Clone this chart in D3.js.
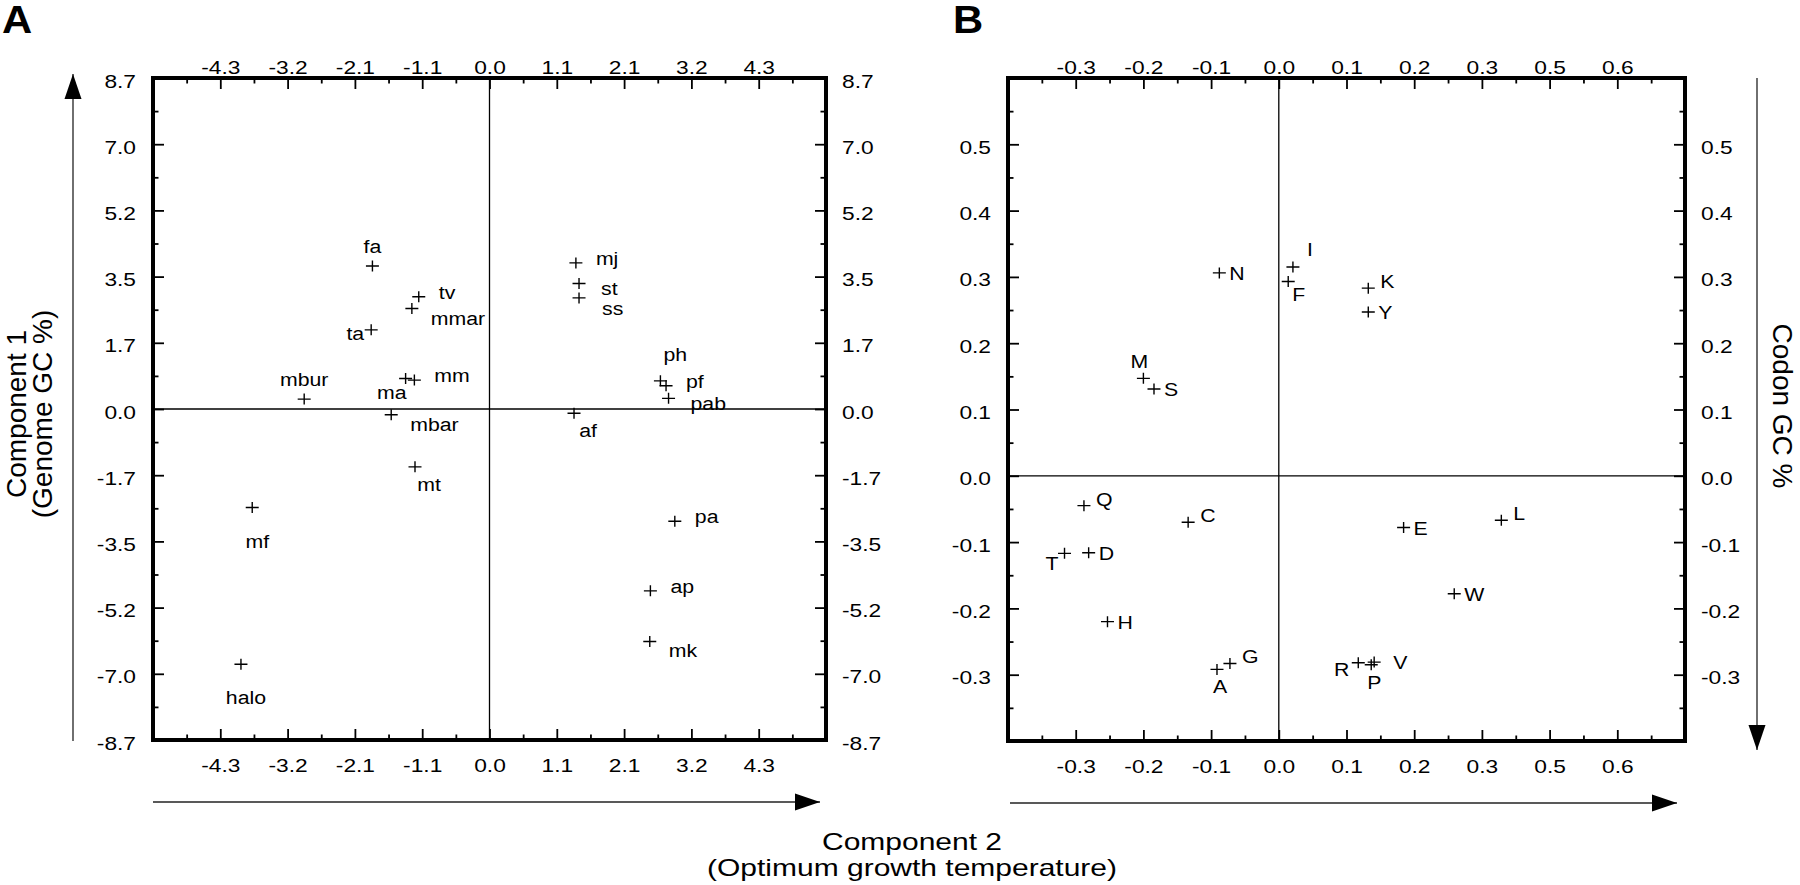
<!DOCTYPE html><html lang="en"><head><meta charset="utf-8">
<title>Component 1 / Component 2</title>
<script src="https://cdn.jsdelivr.net/npm/d3@7"></script>
<style>
body { margin: 0; background: #fff; }
svg text { font-family: "Liberation Sans", Arial, Helvetica, sans-serif; fill: #000; }
</style>
</head>
<body>
<div id="chart"></div>
<script>
// panel A: species, component 2 (x) and component 1 (y)
const speciesA = ["fa", "tv", "mmar", "ta", "ma", "mm", "mbur", "mbar", "mj", "st", "ss",
	"ph", "pf", "pab", "af", "mt", "mf", "halo", "pa", "ap", "mk"];
const comp2A = [-1.87, -1.13, -1.24, -1.89, -1.34, -1.20, -2.96, -1.57, 1.38, 1.43, 1.43,
	2.73, 2.82, 2.86, 1.35, -1.19, -3.79, -3.97, 2.96, 2.57, 2.56];
const comp1A = [3.76, 2.95, 2.64, 2.08, 0.80, 0.76, 0.26, -0.15, 3.84, 3.30, 2.92,
	0.74, 0.61, 0.28, -0.11, -1.52, -2.59, -6.71, -2.95, -4.78, -6.11];
const labelPosA = ["n", "e", "se", "w", "sw", "e", "n", "se", "e", "e2", "se2",
	"ne", "e", "e2", "s", "s", "ss", "ss", "e", "e", "se"];

// panel B: amino acids, component 2 (x) and codon GC % (y)
const aminoB = ["N", "I", "F", "K", "Y", "M", "S", "Q", "C", "T", "D", "H", "G", "A",
	"R", "P", "V", "E", "L", "W"];
const comp2B = [-0.101, 0.024, 0.016, 0.152, 0.152, -0.230, -0.212, -0.331, -0.154, -0.364,
	-0.323, -0.291, -0.083, -0.105, 0.135, 0.157, 0.162, 0.212, 0.378, 0.298];
const codonB = [0.306, 0.315, 0.293, 0.283, 0.247, 0.147, 0.131, -0.045, -0.070, -0.117,
	-0.116, -0.220, -0.283, -0.292, -0.282, -0.285, -0.281, -0.078, -0.067, -0.178];
const labelPosB = ["e", "nne", "se", "ne", "e", "n", "e", "ne", "ne", "sw", "e", "e", "ne", "s",
	"w", "s", "ee", "e", "ne", "e"];

// axis ticks
const xStepA = 1.075, yStepA = 1.74;
const xTickLabelsA = ["-4.3", "-3.2", "-2.1", "-1.1", "0.0", "1.1", "2.1", "3.2", "4.3"];
const yTickLabelsA = ["8.7", "7.0", "5.2", "3.5", "1.7", "0.0", "-1.7", "-3.5", "-5.2", "-7.0", "-8.7"];
const xStepB = 0.115, yStepB = 0.1;
const xTickLabelsB = ["-0.3", "-0.2", "-0.1", "0.0", "0.1", "0.2", "0.3", "0.5", "0.6"];
const yTickLabelsB = ["0.5", "0.4", "0.3", "0.2", "0.1", "0.0", "-0.1", "-0.2", "-0.3"];

const svg = d3.select("#chart").append("svg")
	.attr("width", 1800).attr("height", 885);

const TICK_FONT = 17.5, TICK_SX = 1.3;
const LABEL_FONT = 19, LABEL_SX = 1.12;

function drawPanel(p) {
	const { x, y } = p;
	const [x0, x1] = x.range();
	const [y1, y0] = y.range();
	const g = svg.append("g");

	const axes = [
		{ gen: d3.axisTop(x), at: `translate(0,${y0})`, vals: p.xMajor, labels: p.xLabels, minor: p.xMinor, side: "top" },
		{ gen: d3.axisBottom(x), at: `translate(0,${y1})`, vals: p.xMajor, labels: p.xLabels, minor: p.xMinor, side: "bottom" },
		{ gen: d3.axisLeft(y), at: `translate(${x0},0)`, vals: p.yMajor, labels: p.yLabels, minor: p.yMinor, side: "left" },
		{ gen: d3.axisRight(y), at: `translate(${x1},0)`, vals: p.yMajor, labels: p.yLabels, minor: p.yMinor, side: "right" },
	];
	axes.forEach(a => {
		// minor ticks
		const gm = g.append("g").attr("transform", a.at)
			.call(a.gen.tickValues(a.minor).tickFormat("").tickSizeInner(-5.5).tickSizeOuter(0));
		gm.select(".domain").remove();
		gm.selectAll("line").attr("stroke", "#000").attr("stroke-width", 1.8);
		// major ticks + labels
		const ga = g.append("g").attr("transform", a.at)
			.call(a.gen.tickValues(a.vals).tickFormat((d, i) => a.labels[i]).tickSizeInner(-11).tickSizeOuter(0));
		ga.select(".domain").remove();
		ga.attr("font-family", null).attr("font-size", null);
		ga.selectAll("line").attr("stroke", "#000").attr("stroke-width", 1.8);
		const t = ga.selectAll("text").attr("font-size", TICK_FONT).attr("dy", null).attr("x", 0).attr("y", 0);
		if (a.side === "top") t.attr("transform", `translate(0,-4) scale(${TICK_SX},1)`);
		if (a.side === "bottom") t.attr("transform", `translate(0,32) scale(${TICK_SX},1)`);
		if (a.side === "left") t.attr("text-anchor", "end").attr("transform", `translate(-17,9) scale(${TICK_SX},1)`);
		if (a.side === "right") t.attr("text-anchor", "start").attr("transform", `translate(16,9) scale(${TICK_SX},1)`);
	});

	// zero lines
	g.append("line").attr("x1", x(0)).attr("x2", x(0)).attr("y1", y0).attr("y2", y1)
		.attr("stroke", "#000").attr("stroke-width", 1.3);
	g.append("line").attr("x1", x0).attr("x2", x1).attr("y1", y(0)).attr("y2", y(0))
		.attr("stroke", "#000").attr("stroke-width", 1.3);

	// frame
	g.append("rect").attr("x", x0).attr("y", y0).attr("width", x1 - x0).attr("height", y1 - y0)
		.attr("fill", "none").attr("stroke", "#000").attr("stroke-width", 4);

	// points
	const pts = p.names.map((n, i) => ({ name: n, x: p.xs[i], y: p.ys[i], pos: p.pos[i] }));
	g.selectAll("path.pt").data(pts).join("path").attr("class", "pt")
		.attr("transform", d => `translate(${x(d.x)},${y(d.y)})`)
		.attr("d", "M-6.5,0H6.5M0,-5.5V5.5")
		.attr("stroke", "#000").attr("stroke-width", 1.4).attr("fill", "none");
	g.selectAll("text.lbl").data(pts).join("text").attr("class", "lbl")
		.attr("font-size", LABEL_FONT)
		.attr("text-anchor", d => p.offsets[d.pos].a)
		.attr("transform", d => {
			const o = p.offsets[d.pos];
			return `translate(${x(d.x) + o.dx},${y(d.y) + o.dy}) scale(${LABEL_SX},1)`;
		})
		.text(d => d.name);
}

const halfSteps = (lo, hi, step) => d3.range(lo, hi + 0.01, 1).map(k => k * step);

drawPanel({
	x: d3.scaleLinear().domain([-5 * xStepA, 5 * xStepA]).range([153, 826]),
	y: d3.scaleLinear().domain([-5 * yStepA, 5 * yStepA]).range([740, 78]),
	xMajor: d3.range(-4, 5).map(k => k * xStepA), xLabels: xTickLabelsA,
	xMinor: halfSteps(-4.5, 4.5, xStepA),
	yMajor: d3.range(5, -6, -1).map(k => k * yStepA), yLabels: yTickLabelsA,
	yMinor: halfSteps(-4.5, 4.5, yStepA),
	names: speciesA, xs: comp2A, ys: comp1A, pos: labelPosA,
	offsets: {
		e: { a: "start", dx: 20, dy: 2 },
		e2: { a: "start", dx: 22, dy: 12 },
		se: { a: "start", dx: 19, dy: 16 },
		se2: { a: "start", dx: 23, dy: 17 },
		ne: { a: "start", dx: 3, dy: -20 },
		n: { a: "middle", dx: 0, dy: -13 },
		s: { a: "middle", dx: 14, dy: 24 },
		ss: { a: "middle", dx: 5, dy: 40 },
		w: { a: "end", dx: -7, dy: 10 },
		sw: { a: "end", dx: 1, dy: 20 },
	},
});

drawPanel({
	x: d3.scaleLinear().domain([-4 * xStepB, 6 * xStepB]).range([1008, 1685]),
	y: d3.scaleLinear().domain([-4 * yStepB, 6 * yStepB]).range([741, 78]),
	xMajor: d3.range(-3, 6).map(k => k * xStepB), xLabels: xTickLabelsB,
	xMinor: halfSteps(-3.5, 5.5, xStepB),
	yMajor: d3.range(5, -4, -1).map(k => k * yStepB), yLabels: yTickLabelsB,
	yMinor: halfSteps(-3.5, 5.5, yStepB),
	names: aminoB, xs: comp2B, ys: codonB, pos: labelPosB,
	offsets: {
		e: { a: "start", dx: 10, dy: 7 },
		ee: { a: "start", dx: 19, dy: 7 },
		ne: { a: "start", dx: 12, dy: 0 },
		nne: { a: "start", dx: 14, dy: -11 },
		se: { a: "start", dx: 4, dy: 19 },
		n: { a: "middle", dx: -4, dy: -10 },
		s: { a: "middle", dx: 3, dy: 24 },
		w: { a: "end", dx: -9, dy: 13 },
		sw: { a: "end", dx: -6, dy: 17 },
	},
});

// panel letters
svg.append("text").attr("transform", "translate(2,33) scale(1.1,1)")
	.attr("font-size", 38).attr("font-weight", "bold").text("A");
svg.append("text").attr("transform", "translate(953,33) scale(1.1,1)")
	.attr("font-size", 38).attr("font-weight", "bold").text("B");

// direction arrows
const arrow = (x1, y1, x2, y2) => {
	const ang = Math.atan2(y2 - y1, x2 - x1) * 180 / Math.PI;
	svg.append("line").attr("x1", x1).attr("y1", y1).attr("x2", x2).attr("y2", y2)
		.attr("stroke", "#222").attr("stroke-width", 1.3);
	svg.append("path").attr("d", "M0,0L-25,-8.5L-25,8.5Z").attr("fill", "#000")
		.attr("transform", `translate(${x2},${y2}) rotate(${ang})`);
};
arrow(73, 741, 73, 74);
arrow(153, 802, 820, 802);
arrow(1010, 803, 1677, 803);
arrow(1757, 78, 1757, 750);

// axis titles
svg.append("text").attr("transform", "translate(26,414) rotate(-90)")
	.attr("text-anchor", "middle").attr("font-size", 28).text("Component 1");
svg.append("text").attr("transform", "translate(52,414) rotate(-90)")
	.attr("text-anchor", "middle").attr("font-size", 28).text("(Genome GC %)");
svg.append("text").attr("transform", "translate(1773,406) rotate(90)")
	.attr("text-anchor", "middle").attr("font-size", 28).text("Codon GC %");
svg.append("text").attr("transform", "translate(912,850) scale(1.25,1)")
	.attr("text-anchor", "middle").attr("font-size", 24).text("Component 2");
svg.append("text").attr("transform", "translate(912,876) scale(1.25,1)")
	.attr("text-anchor", "middle").attr("font-size", 24).text("(Optimum growth temperature)");
</script>
</body>
</html>
